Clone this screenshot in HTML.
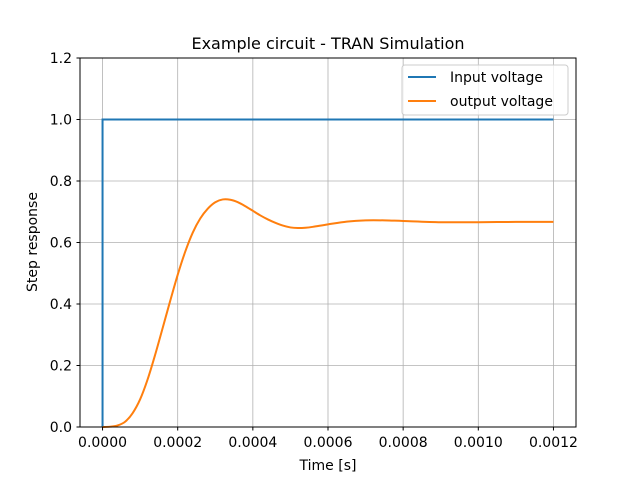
<!DOCTYPE html>
<html><head><meta charset="utf-8"><style>
body{margin:0;background:#fff;}
svg text{font-family:"DejaVu Sans","Liberation Sans",sans-serif;fill:#000;}
</style></head><body>
<svg id="chart" width="640" height="480" xmlns="http://www.w3.org/2000/svg">
<rect width="640" height="480" fill="#fff"/>
<g id="grid"></g>
<g id="series"></g>
<rect x="80" y="58" width="496" height="369" fill="none" stroke="#000" stroke-width="1"/>
<g id="ticks"></g>
<text x="328" y="49" text-anchor="middle" font-size="16">Example circuit - TRAN Simulation</text>
<text x="328" y="470" text-anchor="middle" font-size="14">Time [s]</text>
<text transform="translate(37,242) rotate(-90)" text-anchor="middle" font-size="14">Step response</text>
<g>
<rect x="402" y="65" width="166" height="50" rx="3" fill="#fff" fill-opacity="0.8" stroke="#ccc"/>
<line x1="408" y1="77" x2="436" y2="77" stroke="#1f77b4" stroke-width="2"/>
<text x="450" y="82" font-size="14">Input voltage</text>
<line x1="408" y1="101" x2="436" y2="101" stroke="#ff7f0e" stroke-width="2"/>
<text x="450" y="106" font-size="14">output voltage</text>
</g>
</svg>
<script>
const xTicks=[0,0.0002,0.0004,0.0006,0.0008,0.001,0.0012];
const xTickLabels=["0.0000","0.0002","0.0004","0.0006","0.0008","0.0010","0.0012"];
const yTicks=[0,0.2,0.4,0.6,0.8,1.0,1.2];
const yTickLabels=["0.0","0.2","0.4","0.6","0.8","1.0","1.2"];
const inputT=[0,0,0.0012];
const inputV=[0,1,1];
const outT=[0,0.00002,0.00004,0.00006,0.00008,0.0001,0.00012,0.00014,0.00016,0.00018,0.0002,0.00022,0.00024,0.00026,0.00028,0.0003,0.00032,0.00034,0.00036,0.00038,0.0004,0.00042,0.00044,0.00046,0.00048,0.0005,0.00052,0.00054,0.00056,0.0006,0.00065,0.0007,0.00075,0.0008,0.0009,0.001,0.0011,0.0012];
const outV=[0,0.001,0.005,0.017,0.045,0.09,0.155,0.235,0.322,0.41,0.495,0.57,0.632,0.678,0.710,0.731,0.740,0.739,0.731,0.718,0.703,0.688,0.675,0.664,0.655,0.649,0.647,0.648,0.651,0.659,0.668,0.672,0.672,0.670,0.666,0.666,0.667,0.667];
const NS="http://www.w3.org/2000/svg";
const xMin=-0.00006,xMax=0.00126,yMin=0,yMax=1.2;
const X=v=>80+(v-xMin)/(xMax-xMin)*496;
const Y=v=>427-(v-yMin)/(yMax-yMin)*369;
function mk(tag,attrs,parent){const e=document.createElementNS(NS,tag);for(const k in attrs)e.setAttribute(k,attrs[k]);parent.appendChild(e);return e;}
const grid=document.getElementById('grid'),ticks=document.getElementById('ticks'),series=document.getElementById('series');
xTicks.forEach((t,i)=>{
 const g=mk('line',{x1:X(t),x2:X(t),y1:58,y2:427,stroke:'#b0b0b0','stroke-width':0.8},grid);
 
 
 const tk=mk('line',{x1:X(t),x2:X(t),y1:427,y2:430.5,stroke:'#000'},ticks);
 
 
 const l=mk('text',{x:X(t),y:447,'text-anchor':'middle','font-size':14},ticks);
 l.textContent=xTickLabels[i];
 
 
});
yTicks.forEach((t,i)=>{
 const g=mk('line',{x1:80,x2:576,y1:Y(t),y2:Y(t),stroke:'#b0b0b0','stroke-width':0.8},grid);
 
 
 const tk=mk('line',{x1:76.5,x2:80,y1:Y(t),y2:Y(t),stroke:'#000'},ticks);
 
 
 const l=mk('text',{x:72,y:Y(t)+5,'text-anchor':'end','font-size':14},ticks);
 l.textContent=yTickLabels[i];
 
 
});
const p1=mk('polyline',{points:inputT.map((t,i)=>X(t)+','+Y(inputV[i])).join(' '),fill:'none',stroke:'#1f77b4','stroke-width':2},series);


const pts=outT.map((t,i)=>[X(t),Y(outV[i])]);
let d='M'+pts[0][0]+','+pts[0][1];
for(let i=0;i<pts.length-1;i++){const p0=pts[Math.max(0,i-1)],a=pts[i],b=pts[i+1],p3=pts[Math.min(pts.length-1,i+2)];
 d+=' C'+(a[0]+(b[0]-p0[0])/6)+','+(a[1]+(b[1]-p0[1])/6)+' '+(b[0]-(p3[0]-a[0])/6)+','+(b[1]-(p3[1]-a[1])/6)+' '+b[0]+','+b[1];}
const p2=mk('path',{d:d,fill:'none',stroke:'#ff7f0e','stroke-width':2},series);


</script>
</body></html>
